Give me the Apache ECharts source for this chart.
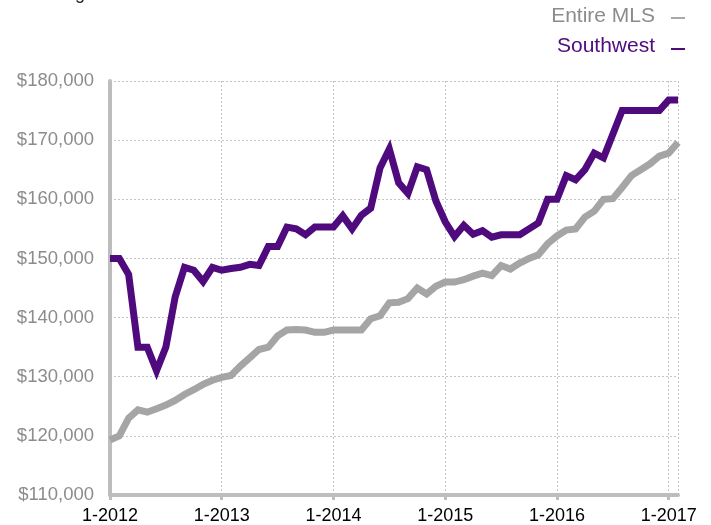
<!DOCTYPE html>
<html>
<head>
<meta charset="utf-8">
<script src="https://cdn.jsdelivr.net/npm/echarts@6/dist/echarts.min.js"></script>
<style>
  html, body { margin: 0; padding: 0; background: #fff; }
  #chart { width: 711px; height: 525px; }
</style>
</head>
<body>
<div id="chart"></div>
<script>
// Monthly labels, 1-2012 through 2-2017
const months = [];
for (let y = 2012; y <= 2017; y++) {
  for (let m = 1; m <= 12; m++) {
    if (y === 2017 && m > 2) break;
    months.push(m + '-' + y);
  }
}

// Median sales price, rolling 12-month
const entireMLS = [
  119300, 120000, 123000, 124400, 124000, 124600, 125200, 126000, 127000, 127800, 128700, 129400,
  129900, 130200, 131800, 133200, 134600, 135000, 136900, 137900, 138000, 137900, 137500, 137500,
  137900, 137900, 137900, 137900, 139800, 140300, 142500, 142600, 143200, 145000, 144000, 145300,
  146000, 146000, 146400, 147000, 147500, 147100, 148800, 148200, 149200, 150000, 150600, 152500,
  153800, 154800, 155000, 157000, 158000, 160000, 160100, 162000, 164000, 165000, 166000, 167300,
  167800, 169600
];

const southwest = [
  150000, 150000, 147300, 135000, 135000, 131000, 135000, 143500, 148500, 148000, 146100, 148500,
  148000, 148300, 148500, 149000, 148800, 152000, 152000, 155300, 155000, 154000, 155300, 155300,
  155300, 157200, 155000, 157300, 158500, 165300, 168500, 162800, 161000, 165500, 165000, 159700,
  156200, 153700, 155600, 154100, 154700, 153600, 154000, 154000, 154000, 155000, 156000, 160000,
  160000, 164000, 163300, 165000, 167800, 167000, 171000, 175000, 175000, 175000, 175000, 175000,
  176800, 176800
];

const seriesNames = ['Entire MLS', 'Southwest'];
const seriesColors = ['#a5a5a5', '#4f0a7e'];

const FONT = '"Liberation Sans", Arial, Helvetica, sans-serif';

const chart = echarts.init(document.getElementById('chart'), null, { renderer: 'canvas' });

const yearTick = (idx) => idx % 12 === 0;

chart.setOption({
  animation: false,
  backgroundColor: '#ffffff',
  grid: { left: 110, right: 33, top: 81, bottom: 30, containLabel: false },
  graphic: [
    {
      type: 'text', left: 30, top: -15,
      style: { text: 'Rolling 12-Month Calculation', fontSize: 18, fontFamily: FONT, fill: '#222' }
    },
    {
      type: 'text', right: 56, top: 6,
      style: { text: seriesNames[0], fontSize: 21, fontFamily: FONT, fill: '#8c8c8c' }
    },
    {
      type: 'line', shape: { x1: 671, y1: 18, x2: 685, y2: 18 },
      style: { stroke: '#8c8c8c', lineWidth: 1.5 }
    },
    {
      type: 'text', right: 56, top: 36,
      style: { text: seriesNames[1], fontSize: 21, fontFamily: FONT, fill: seriesColors[1] }
    },
    {
      type: 'line', shape: { x1: 671, y1: 49, x2: 685, y2: 49 },
      style: { stroke: seriesColors[1], lineWidth: 2 }
    }
  ],
  xAxis: {
    type: 'category',
    data: months,
    boundaryGap: false,
    axisLine: { show: true, lineStyle: { color: '#bdbdbd', width: 4 } },
    axisTick: {
      show: true, interval: yearTick, length: 5, inside: false,
      lineStyle: { color: '#bdbdbd', width: 3 }
    },
    axisLabel: {
      interval: yearTick, color: '#000', fontSize: 18, fontFamily: FONT, margin: 12
    },
    splitLine: {
      show: true,
      interval: (idx) => idx % 12 === 0 || idx === months.length - 1,
      lineStyle: { color: '#c4c4c4', type: [2, 2], width: 1 }
    }
  },
  yAxis: {
    type: 'value',
    min: 110000, max: 180000, interval: 10000,
    axisLine: { show: true, lineStyle: { color: '#bdbdbd', width: 4 } },
    axisTick: { show: false },
    axisLabel: {
      color: '#8c8c8c', fontSize: 18.5, fontFamily: FONT, margin: 16,
      formatter: (v) => '$' + v.toLocaleString('en-US')
    },
    splitLine: { show: true, lineStyle: { color: '#c4c4c4', type: [2, 2], width: 1 } }
  },
  series: [
    {
      name: seriesNames[0], type: 'line', data: entireMLS, showSymbol: false,
      lineStyle: { color: seriesColors[0], width: 7, join: 'miter' }, z: 2
    },
    {
      name: seriesNames[1], type: 'line', data: southwest, showSymbol: false,
      lineStyle: { color: seriesColors[1], width: 7, join: 'miter' }, z: 3
    }
  ]
});
</script>
</body>
</html>
